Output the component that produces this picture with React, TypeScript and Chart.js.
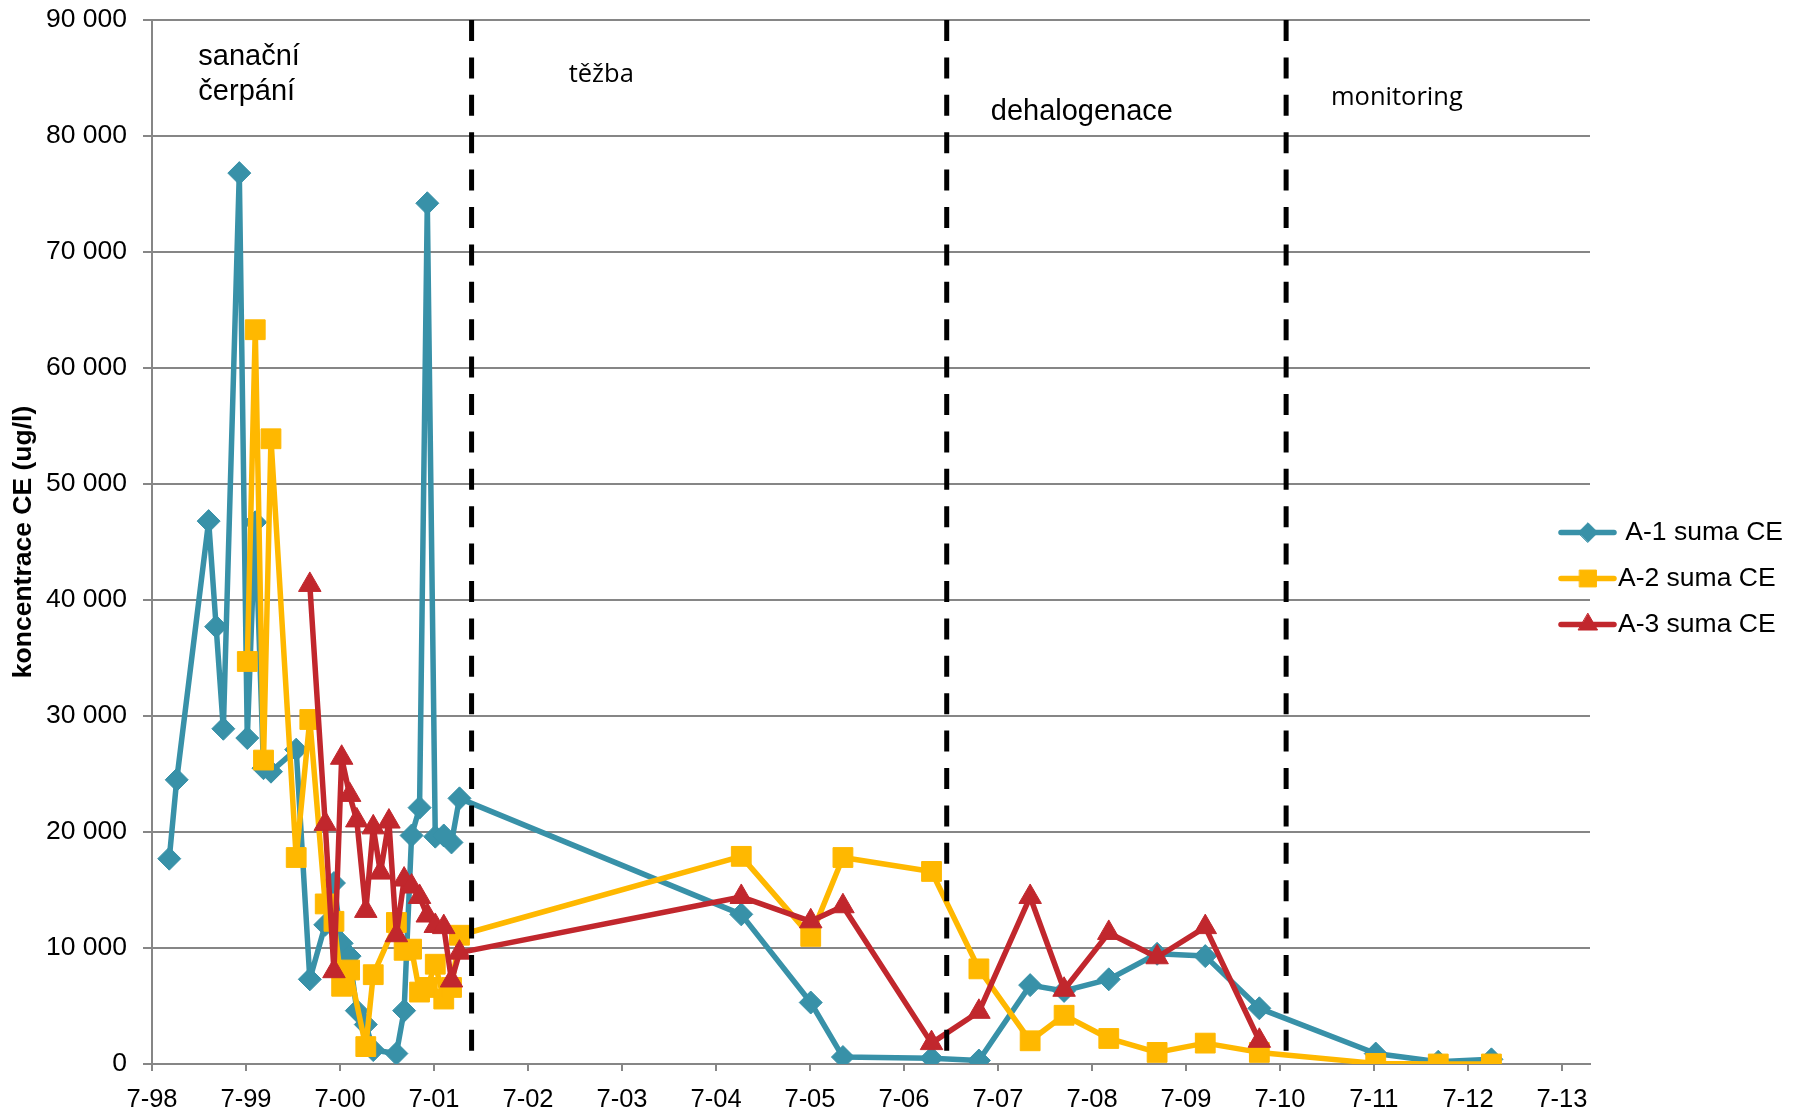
import React, { useEffect, useRef } from 'react';
import { Chart, registerables } from 'chart.js';
import { drawPoint } from 'chart.js/helpers';

Chart.register(...registerables);

// ---------- DATA ----------
const sampleDates = [
  '1998-09-06', '1998-10-05', '1999-02-06', '1999-03-07', '1999-04-04', '1999-06-05',
  '1999-07-06', '1999-08-06', '1999-09-07', '1999-10-06', '2000-01-12', '2000-03-05',
  '2000-05-04', '2000-06-07', '2000-07-07', '2000-08-07', '2000-09-04', '2000-10-09',
  '2000-11-07', '2000-12-05', '2001-01-07', '2001-02-05', '2001-03-07', '2001-04-05',
  '2001-05-06', '2001-06-05', '2001-07-06', '2001-08-08', '2001-09-07', '2001-10-08',
  '2004-10-07', '2005-07-04', '2005-11-06', '2006-10-16', '2007-04-18', '2007-11-03',
  '2008-03-14', '2008-09-04', '2009-03-11', '2009-09-14', '2010-04-12', '2011-07-08',
  '2012-03-07', '2012-09-30',
];

const a1Values: (number | null)[] = [
  17700, 24500, 46800, 37700, 28900, 76800,
  28100, 46700, 25500, 25200, 27100, 7300,
  12000, 15600, 10400, 9300, 4600, 3400,
  1200, null, null, 900, 4600, 19700,
  22100, 74200, 19600, 19700, 19100, 22900,
  12900, 5300, 600, 500, 300, 6800,
  6300, 7300, 9500, 9300, 4800, 900,
  200, 400,
];

const a2Values: (number | null)[] = [
  null, null, null, null, null, null,
  34700, 63300, 26200, 53900, 17800, 29700,
  13800, 12300, 6700, 8100, null, 1500,
  7700, null, null, 12200, 9800, 9900,
  6200, 6600, 8600, 5600, 6600, 11100,
  17900, 11000, 17800, 16600, 8200, 2000,
  4200, 2200, 1000, 1800, 1000, 50,
  0, 0,
];

const a3Values: (number | null)[] = [
  null, null, null, null, null, null,
  null, null, null, null, null, 41300,
  20700, 8000, 26400, 23200, 21000, 13200,
  20400, 16500, 20900, 11100, 15900, 15300,
  14400, 12800, 11900, 11800, 7200, 9600,
  14400, 12300, 13600, 1800, 4500, 14400,
  6400, 11300, 9200, 11800, 2000, null,
  null, null,
];

const seriesLabels = [' A-1 suma CE', 'A-2 suma CE', 'A-3 suma CE'];

const tickDates = [
  '1998-07-01', '1999-07-01', '2000-07-01', '2001-07-01', '2002-07-01', '2003-07-01',
  '2004-07-01', '2005-07-01', '2006-07-01', '2007-07-01', '2008-07-01', '2009-07-01',
  '2010-07-01', '2011-07-01', '2012-07-01', '2013-07-01',
];
const tickLabels = [
  '7-98', '7-99', '7-00', '7-01', '7-02', '7-03', '7-04', '7-05',
  '7-06', '7-07', '7-08', '7-09', '7-10', '7-11', '7-12', '7-13',
];
const axisStartDate = '1998-07-01';
const axisEndDate = '2013-10-18';

const phaseBoundaryDates = ['2001-11-24', '2006-12-14', '2010-07-25'];
const phaseLabelTexts = [['sanační', 'čerpání'], ['těžba'], ['dehalogenace'], ['monitoring']];
const phaseLabelDates = ['1998-12-28', '2002-12-06', '2007-06-03', '2011-01-15'];
const phaseLabelValues = [86800, 85300, 82100, 83300];

// ---------- HELPERS ----------
function toYear(d: string): number {
  const [y, m, day] = d.split('-').map(Number);
  const start = Date.UTC(y, 0, 1);
  const end = Date.UTC(y + 1, 0, 1);
  return y + (Date.UTC(y, m - 1, day) - start) / (end - start);
}

function fmtThousands(v: number): string {
  return String(Math.round(v)).replace(/\B(?=(\d{3})+(?!\d))/g, ' ');
}

const AXIS_FONT = '"Liberation Sans", Arial, sans-serif';
const GRID = '#868686';
const TEAL = '#3891A8';
const YELLOW = '#FFB800';
const RED = '#C1272D';

function pointsOf(values: (number | null)[]) {
  const out: { x: number; y: number }[] = [];
  values.forEach((v, i) => {
    if (v !== null) out.push({ x: toYear(sampleDates[i]), y: v });
  });
  return out;
}

const phasePlugin = {
  id: 'phases',
  afterDatasetsDraw(chart: any) {
    const { ctx, chartArea, scales } = chart;
    const xs = scales.x;
    const ys = scales.y;
    ctx.save();
    ctx.strokeStyle = '#000';
    ctx.lineWidth = 5;
    ctx.setLineDash([21, 16.4]);
    ctx.lineCap = 'butt';
    phaseBoundaryDates.forEach((d) => {
      const x = xs.getPixelForValue(toYear(d));
      ctx.beginPath();
      ctx.moveTo(x, chartArea.top);
      ctx.lineTo(x, chartArea.bottom);
      ctx.stroke();
    });
    ctx.setLineDash([]);
    ctx.fillStyle = '#000';
    ctx.textAlign = 'left';
    ctx.textBaseline = 'middle';
    phaseLabelTexts.forEach((lines, i) => {
      const x = xs.getPixelForValue(toYear(phaseLabelDates[i]));
      const y = ys.getPixelForValue(phaseLabelValues[i]);
      const isOpen = i === 1 || i === 3;
      ctx.font = isOpen ? '25.5px "Open Sans", sans-serif' : '29px "Liberation Sans", Arial, sans-serif';
      lines.forEach((t, j) => ctx.fillText(t, x, y + j * 35));
    });
    ctx.restore();
  },
};

const legendPlugin = {
  id: 'sideLegend',
  afterDraw(chart: any) {
    const { ctx } = chart;
    const ys = [532.5, 578.5, 624.5];
    ctx.save();
    chart.data.datasets.forEach((ds: any, i: number) => {
      const y = ys[i];
      ctx.strokeStyle = ds.borderColor;
      ctx.lineWidth = 5.5;
      ctx.lineCap = 'round';
      ctx.beginPath();
      ctx.moveTo(1561, y);
      ctx.lineTo(1614, y);
      ctx.stroke();
      ctx.fillStyle = ds.pointBackgroundColor;
      ctx.strokeStyle = ds.pointBorderColor;
      ctx.lineWidth = 1;
      drawPoint(ctx, { pointStyle: ds.pointStyle, radius: ds.pointRadius * 0.85, borderWidth: 1, rotation: 0 } as any, 1588, y);
      ctx.fillStyle = '#000';
      ctx.font = '26.5px "Liberation Sans", Arial, sans-serif';
      ctx.textAlign = 'left';
      ctx.textBaseline = 'middle';
      ctx.fillText(ds.label, 1618, y);
    });
    ctx.restore();
  },
};

export default function App() {
  const ref = useRef<HTMLCanvasElement | null>(null);

  useEffect(() => {
    if (!ref.current) return;
    const mk = (label: string, values: (number | null)[], color: string, style: string, radius: number, order: number) => ({
      label,
      data: pointsOf(values),
      borderColor: color,
      backgroundColor: color,
      pointBackgroundColor: color,
      pointBorderColor: color,
      pointBorderWidth: 1,
      pointStyle: style,
      pointRadius: radius,
      pointHoverRadius: radius,
      borderWidth: 5.5,
      borderJoinStyle: 'round',
      borderCapStyle: 'round',
      tension: 0,
      fill: false,
      order,
    });

    const chart = new Chart(ref.current, {
      type: 'line',
      data: {
        datasets: [
          mk(seriesLabels[0], a1Values, TEAL, 'rectRot', 11.5, 3),
          mk(seriesLabels[1], a2Values, YELLOW, 'rect', 14, 2),
          mk(seriesLabels[2], a3Values, RED, 'triangle', 13, 1),
        ] as any,
      },
      options: {
        animation: false,
        responsive: false,
        maintainAspectRatio: false,
        devicePixelRatio: 1,
        parsing: false as any,
        layout: { padding: { left: 0, right: 212, top: 20, bottom: 0 } },
        plugins: { legend: { display: false }, tooltip: { enabled: false } },
        scales: {
          x: {
            type: 'linear',
            min: toYear(axisStartDate),
            max: toYear(axisEndDate),
            afterBuildTicks: (s: any) => {
              s.ticks = tickDates.map((d) => ({ value: toYear(d) }));
            },
            afterFit: (s: any) => {
              s.height = 47;
              s.paddingLeft = 0;
              s.paddingRight = 0;
            },
            grid: { display: true, drawOnChartArea: false, drawTicks: true, tickLength: 7, color: GRID, lineWidth: 2 },
            border: { display: true, color: GRID, width: 2 },
            ticks: {
              autoSkip: false,
              maxRotation: 0,
              padding: 14,
              color: '#000',
              font: { family: AXIS_FONT, size: 25.5 },
              callback: (_v: any, i: number) => tickLabels[i],
            },
          },
          y: {
            min: 0,
            max: 90000,
            afterFit: (s: any) => {
              s.width = 152;
              s.paddingTop = 0;
              s.paddingBottom = 0;
            },
            grid: { color: GRID, lineWidth: 2, tickLength: 9 },
            border: { display: true, color: GRID, width: 2 },
            ticks: {
              stepSize: 10000,
              padding: 16,
              color: '#000',
              font: { family: AXIS_FONT, size: 26.5 },
              callback: (v: any) => fmtThousands(Number(v)),
            },
            title: {
              display: true,
              text: 'koncentrace CE (ug/l)',
              color: '#000',
              font: { family: AXIS_FONT, size: 26.5, weight: 'bold' },
              padding: { top: 8, bottom: 0 },
            },
          },
        },
      } as any,
      plugins: [phasePlugin, legendPlugin],
    });
    return () => chart.destroy();
  }, []);

  return (
    <div style={{ position: 'fixed', left: 0, top: 0, width: 1802, height: 1111, background: '#fff' }}>
      <canvas ref={ref} width={1802} height={1111} style={{ width: 1802, height: 1111, display: 'block' }} />
    </div>
  );
}
